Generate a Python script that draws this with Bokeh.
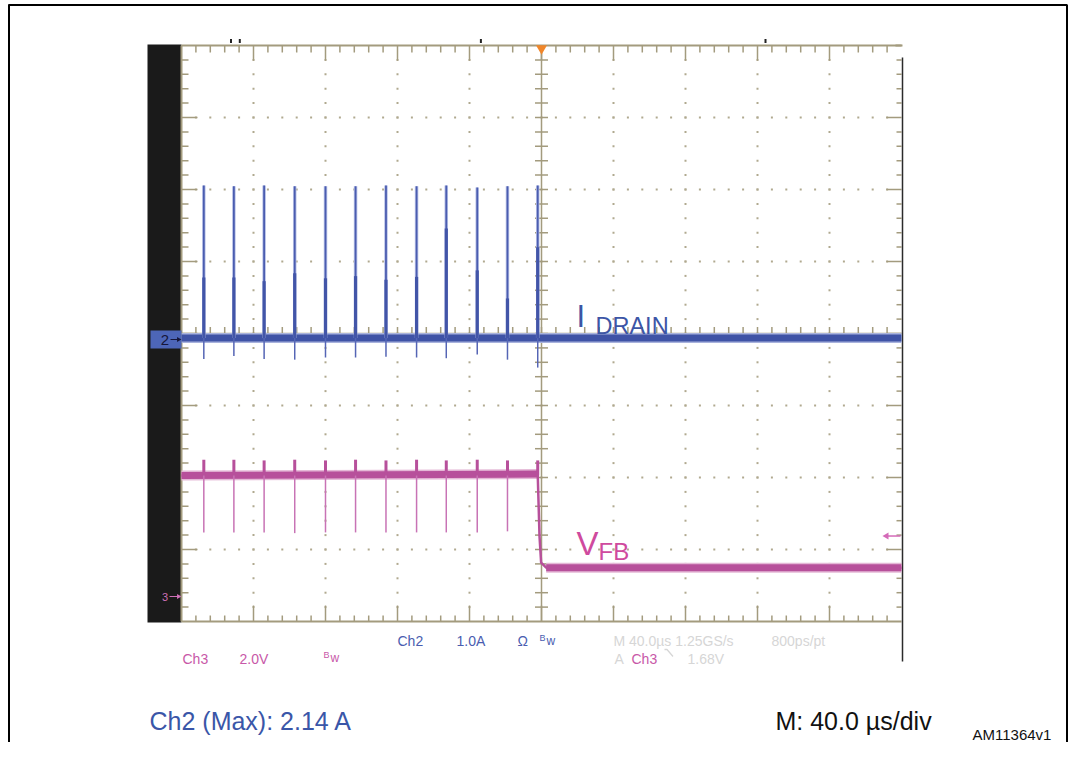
import numpy as np
from bokeh.plotting import figure
from bokeh.models import Range1d, Grid
from bokeh.core.properties import value
from bokeh.embed import file_html
from bokeh.resources import INLINE

# ---------------- data (read from the scope capture) ----------------
# switching pulses, time relative to trigger (µs), 40 µs/div
pulse_t_us = [-187.6, -170.9, -154.1, -137.1, -120.0, -103.3, -86.4, -69.4, -52.9, -35.7, -18.9, -2.1]
# Ch2: drain current (A), 1.0 A/div
ch2_peak_A = [2.14, 2.13, 2.14, 2.13, 2.13, 2.13, 2.14, 2.13, 2.14, 2.11, 2.13, 2.14]
ch2_knee_A = [0.86, 0.86, 0.81, 0.92, 0.85, 0.88, 0.83, 0.87, 1.54, 0.96, 0.57, 1.28]
ch2_neg_A = [-0.27, -0.23, -0.27, -0.28, -0.25, -0.25, -0.24, -0.25, -0.26, -0.21, -0.28, -0.39]
ch2_base_t = [-200.0, 200.0]
ch2_base_A = [0.02, 0.02]
# Ch3: feedback voltage (V), 2.0 V/div
ch3_t_us = [-200.0, -2.1, -1.1, -0.2, 2.6, 200.0]
ch3_V = [3.36, 3.40, 1.67, 0.94, 0.80, 0.80]
ch3_up_V = [3.80, 3.80, 3.78, 3.80, 3.78, 3.80, 3.78, 3.80, 3.78, 3.80, 3.78, 3.78]
ch3_down_V = [1.78, 1.78, 1.78, 1.76, 1.78, 1.78, 1.78, 1.78, 1.78, 1.78, 1.81]
ch3_base_V = 3.36
trigger_level_V = 1.68

# scope read-out texts
ch2_readout = ["Ch2", "1.0A", "\u03a9"]
ch3_readout = ["Ch3", "2.0V"]
time_readout = ["M 40.0\u00b5s 1.25GS/s", "800ps/pt"]
trig_readout = ["A", "Ch3", "1.68V"]

# ---------------- geometry helpers (picture pixel -> scope coords) ----------------
US_PER_DIV = 40.0
PX_PER_DIV = 72.0
CX, CY = 542.0, 334.0          # graticule centre in the picture
W, H = 1068, 742
LEFT, TOP = 1, 1


def X(px):
    return (px - CX) * US_PER_DIV / PX_PER_DIV


def Y(py):
    return (CY - py) / PX_PER_DIV


ux = US_PER_DIV / PX_PER_DIV   # µs per screen px
uy = 1.0 / PX_PER_DIV          # div per screen px

CH2_OFF = Y(340)   # channel-2 ground marker (div)
CH3_OFF = Y(597)   # channel-3 ground marker (div)
CH2_SCALE = 1.0    # A/div
CH3_SCALE = 2.0    # V/div

y0, y1 = Y(TOP + H), Y(TOP)
p = figure(width=W, height=H, output_backend="svg", toolbar_location=None,
           x_range=Range1d(X(LEFT), X(LEFT + W)), y_range=Range1d(y0, y1),
           min_border=0, x_axis_location=None, y_axis_location=None,
           outline_line_color=None, background_fill_color="white",
           border_fill_color="white")
p.center = [c for c in p.center if not isinstance(c, Grid)]
p.extra_y_ranges = {
    "amps": Range1d((y0 - CH2_OFF) * CH2_SCALE, (y1 - CH2_OFF) * CH2_SCALE),
    "volts": Range1d((y0 - CH3_OFF) * CH3_SCALE, (y1 - CH3_OFF) * CH3_SCALE),
}

FONT = value("Liberation Sans")

# ---------------- outer frame ----------------
p.segment(x0=[X(9.5), X(9), X(1067.5)], y0=[Y(5), Y(5.5), Y(5)],
          x1=[X(9.5), X(1067.5), X(1067.5)], y1=[Y(760), Y(5.5), Y(760)],
          line_color="black", line_width=2)

# ---------------- graticule ----------------
TAN = "#a39b7e"
DOT = "#b0a98f"
p.quad(left=X(148), right=X(182), top=Y(45), bottom=Y(623), fill_color="#1a1a1a", line_color=None)

xs_minor = [-200 + 8 * k for k in range(1, 50)]
ys_minor = [-4 + 0.2 * k for k in range(1, 40)]

# dotted division lines
dx, dy = [], []
for xg in [-160, -120, -80, -40, 40, 80, 120, 160]:
    for yv in ys_minor:
        dx.append(xg); dy.append(yv)
for yg in [-3, -2, -1, 1, 2, 3]:
    for xv in xs_minor:
        dx.append(xv); dy.append(yg)
p.scatter(dx, dy, marker="square", size=2, fill_color=DOT, line_color=None)

# border
p.segment(x0=[-200, -200, -200], y0=[-4, 4, -4], x1=[-200, 200, 200], y1=[4, 4, -4],
          line_color=TAN, line_width=2)
# edge ticks
sx0, sy0, sx1, sy1 = [], [], [], []
for k, xv in enumerate(xs_minor, start=1):
    major = (k % 5 == 0)
    lt = 15 if major else 7
    lb = 16 if major else 6
    sx0 += [xv, xv]; sx1 += [xv, xv]
    sy0 += [4, -4]; sy1 += [4 - lt * uy, -4 + lb * uy]
for k, yv in enumerate(ys_minor, start=1):
    major = (k % 5 == 0)
    ll = 16 if major else 7
    lr = 15 if major else 5
    sy0 += [yv, yv]; sy1 += [yv, yv]
    sx0 += [-200, 200]; sx1 += [-200 + ll * ux, 200 - lr * ux]
# centre cross ticks
for xv in xs_minor:
    sx0.append(xv); sx1.append(xv); sy0.append(-6.5 * uy); sy1.append(6.5 * uy)
for yv in ys_minor:
    sy0.append(yv); sy1.append(yv); sx0.append(-6.5 * ux); sx1.append(6.5 * ux)
p.segment(x0=sx0, y0=sy0, x1=sx1, y1=sy1, line_color=TAN, line_width=1.5)
p.segment(x0=[0, -200], y0=[-4, 0], x1=[0, 200], y1=[4, 0], line_color=TAN, line_width=1.5)

# right-hand dark edge of the capture
p.segment(x0=[X(903)], y0=[Y(58)], x1=[X(903)], y1=[Y(662)], line_color="#2b2b2b", line_width=1.5)
p.segment(x0=[X(896)], y0=[Y(46)], x1=[X(903)], y1=[Y(46)], line_color=TAN, line_width=2)
# small cursor marks above the graticule
p.rect(x=[X(231.5), X(240.3), X(481.4), X(766)], y=[Y(41.5)] * 4, width=2, height=4,
       width_units="screen", height_units="screen", fill_color="#222222", line_color=None)
# trigger position
p.scatter([0], [Y(49)], marker="inverted_triangle", size=11, fill_color="#f0862a", line_color=None)

# ---------------- Ch2 trace (blue) ----------------
base2 = [ch2_base_A[0]] * len(pulse_t_us)
p.line(ch2_base_t, ch2_base_A, y_range_name="amps", line_color="#a9b3dd", line_width=10)
p.line(ch2_base_t, ch2_base_A, y_range_name="amps", line_color="#3f53a6", line_width=7)
p.segment(x0=pulse_t_us, y0=base2, x1=pulse_t_us, y1=ch2_peak_A, y_range_name="amps",
          line_color="#b8c1e6", line_width=3.5)
p.segment(x0=pulse_t_us, y0=base2, x1=pulse_t_us, y1=ch2_peak_A, y_range_name="amps",
          line_color="#4b5db0", line_width=1.8)
p.segment(x0=pulse_t_us, y0=base2, x1=pulse_t_us, y1=ch2_knee_A, y_range_name="amps",
          line_color="#4255a8", line_width=3.2)
p.segment(x0=pulse_t_us, y0=base2, x1=pulse_t_us, y1=ch2_neg_A, y_range_name="amps",
          line_color="#5565b5", line_width=1.5)

# ---------------- Ch3 trace (magenta) ----------------
base3 = [ch3_base_V] * len(pulse_t_us)
p.line(ch3_t_us[:2], ch3_V[:2], y_range_name="volts", line_color="#e4b8d6", line_width=10)
p.line(ch3_t_us[-2:], ch3_V[-2:], y_range_name="volts", line_color="#e4b8d6", line_width=10)
p.line(ch3_t_us, ch3_V, y_range_name="volts", line_color="#b7509b", line_width=2.5)
p.line(ch3_t_us[:2], ch3_V[:2], y_range_name="volts", line_color="#b7509b", line_width=7)
p.line(ch3_t_us[-2:], ch3_V[-2:], y_range_name="volts", line_color="#b7509b", line_width=7)
p.segment(x0=pulse_t_us, y0=base3, x1=pulse_t_us, y1=ch3_up_V, y_range_name="volts",
          line_color="#b7509b", line_width=3)
t_dn = pulse_t_us[:len(ch3_down_V)]
p.segment(x0=t_dn, y0=[ch3_base_V] * len(t_dn), x1=t_dn, y1=ch3_down_V, y_range_name="volts",
          line_color="#c873b5", line_width=1.5)

# trigger level arrow (right side)
p.segment(x0=[X(887)], y0=[trigger_level_V], x1=[X(901)], y1=[trigger_level_V], y_range_name="volts",
          line_color="#d46ab8", line_width=1.5)
p.scatter([X(887)], [trigger_level_V], y_range_name="volts", marker="triangle", angle=np.pi / 2,
          size=7, fill_color="#d46ab8", line_color=None)

# ---------------- channel markers ----------------
p.quad(left=X(151), right=X(182), top=Y(331), bottom=Y(349), fill_color="#4d66b8", line_color=None)
p.text([X(165.5)], [Y(340)], ["2"], text_font=FONT, text_font_size="15px", text_color="#16163a",
       text_align="center", text_baseline="middle")
p.segment(x0=[X(171)], y0=[Y(340)], x1=[X(180)], y1=[Y(340)], line_color="#16163a", line_width=1.2)
p.scatter([X(179)], [Y(340)], marker="triangle", angle=-np.pi / 2, size=5, fill_color="#16163a", line_color=None)

p.text([X(165.5)], [Y(597)], ["3"], text_font=FONT, text_font_size="11px", text_color="#d070b8",
       text_align="center", text_baseline="middle")
p.segment(x0=[X(170)], y0=[Y(597)], x1=[X(180)], y1=[Y(597)], line_color="#d070b8", line_width=1.2)
p.scatter([X(179)], [Y(597)], marker="triangle", angle=-np.pi / 2, size=5, fill_color="#d070b8", line_color=None)

# ---------------- trace labels ----------------
BLUE_T = "#3c55a6"
MAG_T = "#cf4a9e"
p.text([X(577)], [Y(317)], ["I"], text_font=FONT, text_font_size="31px", text_color=BLUE_T,
       text_baseline="alphabetic")
p.text([X(596)], [Y(326)], ["DRAIN"], text_font=FONT, text_font_size="23.5px", text_color=BLUE_T,
       text_baseline="alphabetic")
p.text([X(577)], [Y(544)], ["V"], text_font=FONT, text_font_size="33px", text_color=MAG_T,
       text_baseline="alphabetic")
p.text([X(599)], [Y(552)], ["FB"], text_font=FONT, text_font_size="24px", text_color=MAG_T,
       text_baseline="alphabetic")

# ---------------- scope read-out ----------------
SB = "#4a5db0"
SM = "#c858a8"
SG = "#d6d6d6"
FS = "14px"
p.text([X(398), X(457), X(518)], [Y(641)] * 3, ch2_readout, text_font=FONT, text_font_size=FS,
       text_color=SB, text_baseline="alphabetic")
p.text([X(540)], [Y(638)], ["B"], text_font=FONT, text_font_size="9px", text_color=SB, text_baseline="alphabetic")
p.text([X(547)], [Y(641)], ["w"], text_font=FONT, text_font_size="12px", text_color=SB, text_baseline="alphabetic")

p.text([X(183), X(240)], [Y(659)] * 2, ch3_readout, text_font=FONT, text_font_size=FS,
       text_color=SM, text_baseline="alphabetic")
p.text([X(324)], [Y(655)], ["B"], text_font=FONT, text_font_size="9px", text_color=SM, text_baseline="alphabetic")
p.text([X(331)], [Y(658)], ["w"], text_font=FONT, text_font_size="12px", text_color=SM, text_baseline="alphabetic")

p.text([X(614), X(772)], [Y(641)] * 2, time_readout, text_font=FONT, text_font_size=FS,
       text_color=SG, text_baseline="alphabetic")
p.text([X(615), X(688)], [Y(659)] * 2, [trig_readout[0], trig_readout[2]], text_font=FONT,
       text_font_size=FS, text_color=SG, text_baseline="alphabetic")
p.text([X(632)], [Y(659)], [trig_readout[1]], text_font=FONT, text_font_size=FS,
       text_color=SM, text_baseline="alphabetic")
p.line([X(665), X(667.5), X(673.5)], [Y(650), Y(650), Y(657)], line_color=SG, line_width=1.3)

# ---------------- figure captions ----------------
p.text([X(150)], [Y(721)], [f"Ch2 (Max): {max(ch2_peak_A):.2f} A"], text_font=FONT, text_font_size="25px",
       text_color="#3a56a8", text_baseline="alphabetic")
p.text([X(776)], [Y(721)], ["M: 40.0 \u00b5s/div"], text_font=FONT, text_font_size="25px",
       text_color="#111111", text_baseline="alphabetic")
p.text([X(973)], [Y(735)], ["AM11364v1"], text_font=FONT, text_font_size="15px",
       text_color="#111111", text_baseline="alphabetic")

open("out.html", "w").write(file_html(p, INLINE))
